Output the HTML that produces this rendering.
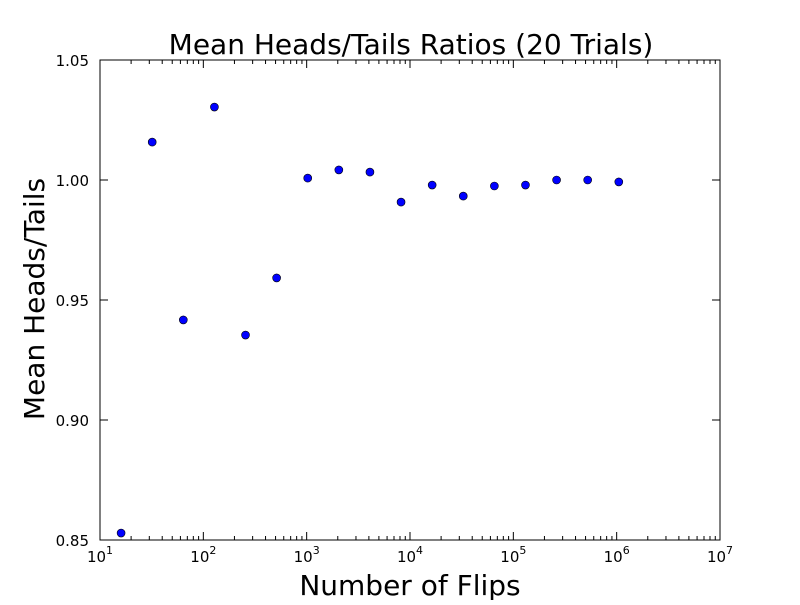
<!DOCTYPE html>
<html><head><meta charset="utf-8"><style>
body{margin:0;background:#fff;}
svg text{font-family:"DejaVu Sans","Liberation Sans",sans-serif;}
</style></head><body>
<svg id="chart" width="800" height="600" xmlns="http://www.w3.org/2000/svg">
<rect width="800" height="600" fill="#fff"/>
<text x="411" y="54" font-size="28" text-anchor="middle">Mean Heads/Tails Ratios (20 Trials)</text>
<text x="410" y="595" font-size="28" text-anchor="middle">Number of Flips</text>
<text transform="translate(44,299) rotate(-90)" font-size="28" text-anchor="middle">Mean Heads/Tails</text>
<g id="ticks"></g>
<g id="points"></g>
<rect x="100" y="60" width="620" height="480" fill="none" stroke="#000" stroke-width="1"/>
</svg>
<script>
const flips = [16,32,64,128,256,512,1024,2048,4096,8192,16384,32768,65536,131072,262144,524288,1048576];
const ratios = [0.8529,1.0158,0.9417,1.0304,0.9354,0.9592,1.0008,1.0042,1.0033,0.9908,0.9979,0.9933,0.9975,0.9979,1.0000,1.0000,0.9992];
const yTicks = [0.85,0.90,0.95,1.00,1.05];
const xExps = [1,2,3,4,5,6,7];
const L=100,R=720,T=60,B=540;
const xS=v=>L+(Math.log10(v)-1)/6*(R-L);
const yS=v=>B-(v-0.85)/0.2*(B-T);
const NS='http://www.w3.org/2000/svg';
const tg=document.getElementById('ticks'), pg=document.getElementById('points');
function line(x1,y1,x2,y2){const l=document.createElementNS(NS,'line');l.setAttribute('x1',x1);l.setAttribute('y1',y1);l.setAttribute('x2',x2);l.setAttribute('y2',y2);l.setAttribute('stroke','#000');tg.appendChild(l);return l;}
yTicks.forEach(v=>{const y=yS(v);
 const a=line(L,y,L+8,y);
 const b=line(R,y,R-8,y);
 const t=document.createElementNS(NS,'text');t.setAttribute('x',L-11);t.setAttribute('y',y+6);t.setAttribute('font-size','15');t.setAttribute('text-anchor','end');t.textContent=v.toFixed(2);
 
 
 tg.appendChild(t);});
xExps.forEach(e=>{const x=xS(Math.pow(10,e));
 const a=line(x,B,x,B-8);
 const b=line(x,T,x,T+8);
 const t=document.createElementNS(NS,'text');t.setAttribute('x',x);t.setAttribute('y',B+22);t.setAttribute('font-size','15');t.setAttribute('text-anchor','middle');
 t.innerHTML='10<tspan dy="-8" font-size="11">'+e+'</tspan>';
 
 
 tg.appendChild(t);
 if(e<7){for(let m=2;m<10;m++){const xm=xS(m*Math.pow(10,e));
  const c=line(xm,B,xm,B-4);
  const d=line(xm,T,xm,T+4);}}
});
flips.forEach((f,i)=>{const c=document.createElementNS(NS,'circle');c.setAttribute('cx',xS(f));c.setAttribute('cy',yS(ratios[i]));c.setAttribute('r','4');c.setAttribute('fill','#0000ff');c.setAttribute('stroke','#000');c.setAttribute('stroke-width','0.6');
 
 
 pg.appendChild(c);});
</script>
</body></html>
